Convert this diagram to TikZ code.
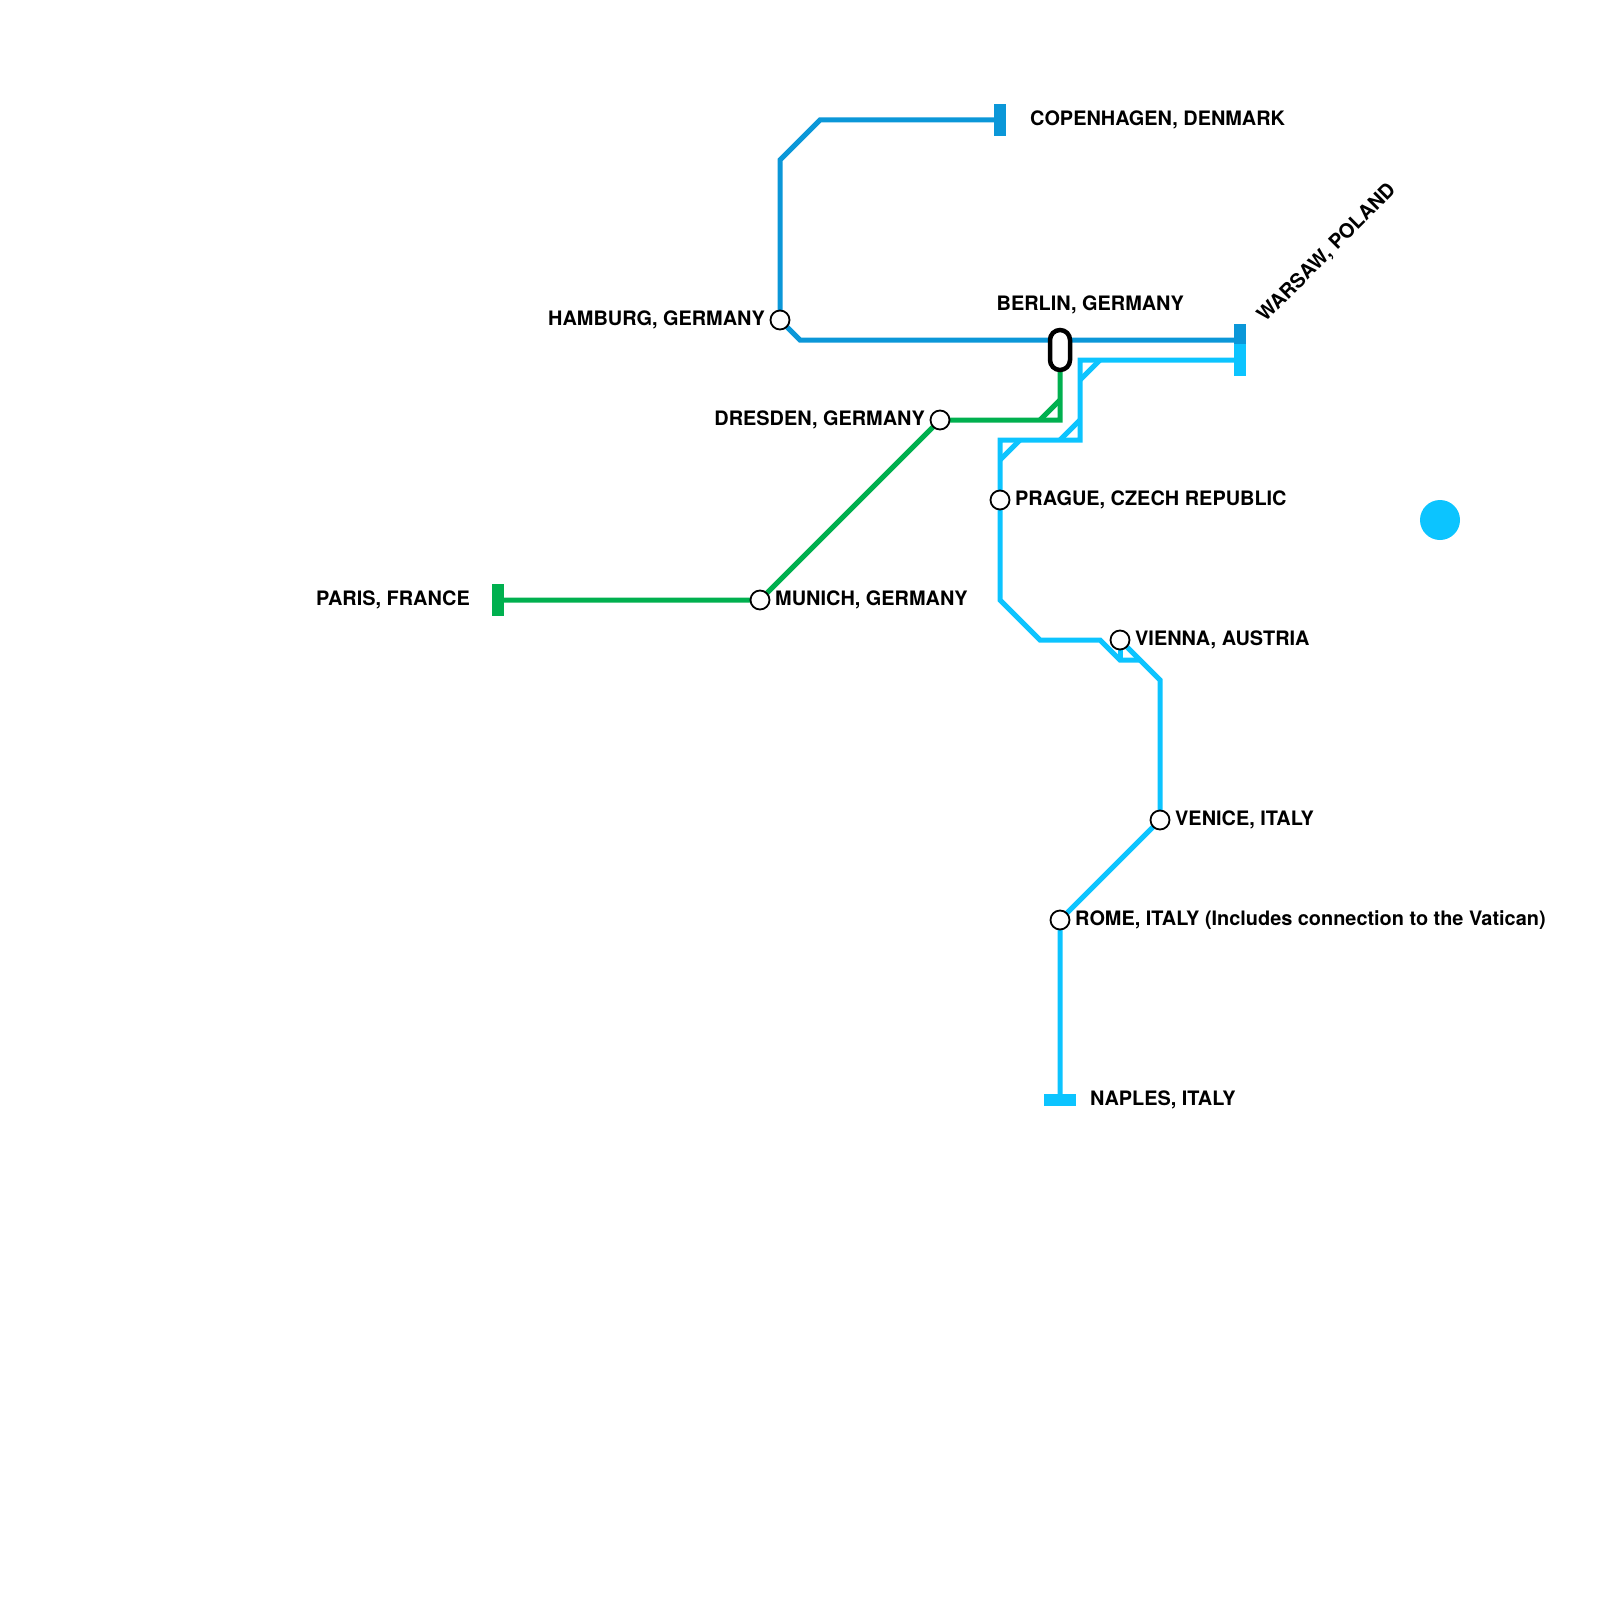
\documentclass[tikz,border=0pt]{standalone}
\usepackage{fontspec}
\setmainfont{TeX Gyre Heros}
\tikzset{
  x=1pt,y=-1pt,
  line/.style={line width=5pt,line join=miter,miter limit=10},
  blueline/.style={line,draw=lineblue},
  cyanline/.style={line,draw=linecyan},
  greenline/.style={line,draw=linegreen},
  station/.style={circle,draw=black,fill=white,line width=1.8pt,minimum size=19pt,inner sep=0pt},
  hub/.style={rectangle,rounded corners=10pt,draw=black,fill=white,line width=4.5pt,minimum width=20pt,minimum height=40pt,inner sep=0pt},
  lbl/.style={font=\fontsize{19.9}{24}\selectfont\bfseries,text=black,inner sep=0pt},
  lble/.style={lbl,anchor=base east},
  lblw/.style={lbl,anchor=base west},
}
\definecolor{lineblue}{HTML}{0B97D8}
\definecolor{linecyan}{HTML}{0CC4FF}
\definecolor{linegreen}{HTML}{00B04F}
\begin{document}
\begin{tikzpicture}
\useasboundingbox (0,0) rectangle (1600,1600);
% station anchors
\coordinate (cop) at (1000,120);
\coordinate (ham) at (780,320);
\coordinate (war) at (1240,340);
\coordinate (war2) at (1240,360);
\coordinate (dre) at (940,420);
\coordinate (mun) at (760,600);
\coordinate (par) at (498,600);
\coordinate (ber) at (1060,350);
\coordinate (pra) at (1000,500);
\coordinate (vie) at (1120,640);
\coordinate (ven) at (1160,820);
\coordinate (rom) at (1060,920);
\coordinate (nap) at (1060,1100);
% lines
\draw[blueline] (cop) -- (820,120) -- (780,160) -- (ham) -- (800,340) -- (war);
\draw[greenline] (par) -- (mun) -- (dre) -- (1060,420) -- (ber);
\draw[greenline] (1040,420) -- (1060,400);
\draw[cyanline] (war2) -- (1080,360) -- (1080,440) -- (1000,440) -- (pra) -- (1000,600) -- (1040,640) -- (1100,640) -- (1120,660) -- (1140,660);
\draw[cyanline] (1100,360) -- (1080,380);
\draw[cyanline] (1080,420) -- (1060,440);
\draw[cyanline] (1020,440) -- (1000,460);
\draw[cyanline] (vie) -- (1120,660);
\draw[cyanline] (vie) -- (1160,680) -- (ven) -- (rom) -- (nap);
% terminals
\fill[lineblue] (994,104) rectangle (1006,136);
\fill[lineblue] (1234,324) rectangle (1246,346);
\fill[linecyan] (1234,344) rectangle (1246,376);
\fill[linegreen] (491.5,584) rectangle (503.5,616);
\fill[linecyan] (1044,1094) rectangle (1076,1106);
% big dot
\fill[linecyan] (1440,520) circle[radius=20];
% stations
\node[station] (nham) at (ham) {};
\node[station] (ndre) at (dre) {};
\node[station] (nmun) at (mun) {};
\node[station] (npra) at (pra) {};
\node[station] (nvie) at (vie) {};
\node[station] (nven) at (ven) {};
\node[station] (nrom) at (rom) {};
\node[hub] (nber) at (ber) {};
% labels
\node[lblw] (tcop) at (1030,125) {COPENHAGEN, DENMARK};
\node[lblw,rotate=45] (twar) at (1265,323) {WARSAW, POLAND};
\node[lblw] (tber) at (996.5,310) {BERLIN, GERMANY};
\node[lble] (tham) at (765,325) {HAMBURG, GERMANY};
\node[lble] (tdre) at (925,425) {DRESDEN, GERMANY};
\node[lblw] (tpra) at (1015,505) {PRAGUE, CZECH REPUBLIC};
\node[lble] (tpar) at (470,605) {PARIS, FRANCE};
\node[lblw] (tmun) at (775,605) {MUNICH, GERMANY};
\node[lblw] (tvie) at (1135,645) {VIENNA, AUSTRIA};
\node[lblw] (tven) at (1175,825) {VENICE, ITALY};
\node[lblw] (trom) at (1075,925) {ROME, ITALY (Includes connection to the Vatican)};
\node[lblw] (tnap) at (1090,1105) {NAPLES, ITALY};
\end{tikzpicture}
\end{document}
